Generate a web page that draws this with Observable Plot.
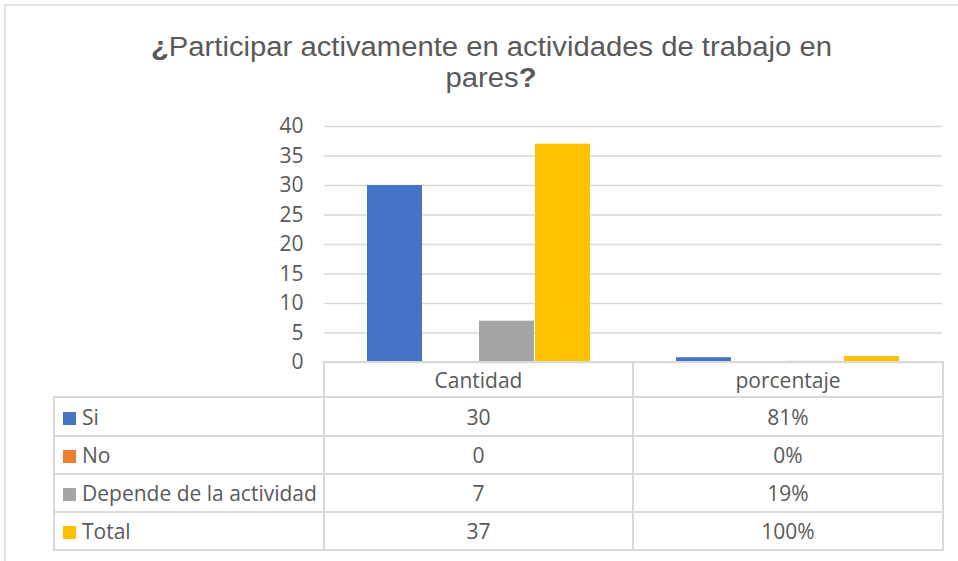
<!DOCTYPE html>
<html>
<head>
<meta charset="utf-8">
<script src="https://cdn.jsdelivr.net/npm/d3@7"></script>
<script src="https://cdn.jsdelivr.net/npm/@observablehq/plot@0.6"></script>
<style>
  html, body { margin: 0; padding: 0; background: #fff; width: 958px; height: 561px; overflow: hidden; }
  #frame { position: absolute; left: 4px; top: 4px; width: 1000px; height: 600px; border: 2px solid #e3e3e3; box-sizing: border-box; }
  #title { position: absolute; left: 0; top: 32px; width: 982px; text-align: center; font-family: "Liberation Sans", Arial, sans-serif; font-size: 27px; line-height: 31px; color: #595959; }
  #title span.l { display: inline-block; transform-origin: center; }
  #chart { position: absolute; left: 0; top: 100px; }
  #tbl { position: absolute; left: 53px; top: 361px; border-collapse: collapse; table-layout: fixed; font-family: "Open Sans", sans-serif; font-size: 21px; color: #595959; }
  #tbl td { border: 2px solid #d9d9d9; padding: 0; text-align: center; vertical-align: middle; white-space: nowrap; overflow: visible; }
  #tbl td.lab { text-align: left; padding-left: 8px; }
  #tbl td.blank { border-top: none; border-left: none; }
  .sw { display: inline-block; width: 13px; height: 13px; margin-right: 6px; vertical-align: 0px; }
</style>
</head>
<body>
<div id="frame"></div>
<div id="title"><span class="l" id="t1"><b>¿</b>Participar activamente en actividades de trabajo en</span><br><span class="l" id="t2">pares<b>?</b></span></div>
<div id="chart"></div>
<table id="tbl"></table>
<script>
const categories = ["Cantidad", "porcentaje"];
const series = ["Si", "No", "Depende de la actividad", "Total"];
const cantidad = [30, 0, 7, 37];
const porcentaje = [0.81, 0, 0.19, 1.00];
const colors = ["#4472C4", "#ED7D31", "#A5A5A5", "#FFC000"];
const yTicks = [0, 5, 10, 15, 20, 25, 30, 35, 40];

const rows = [];
categories.forEach((c, ci) => {
  series.forEach((s, si) => {
    rows.push({group: c, series: s, value: ci === 0 ? cantidad[si] : porcentaje[si]});
  });
});

const chart = Plot.plot({
  width: 958,
  height: 263,
  marginTop: 26,
  marginBottom: 1,
  marginLeft: 323,
  marginRight: 16,
  style: {fontFamily: "Open Sans, sans-serif", fontSize: "21px", color: "#595959", background: "transparent", overflow: "visible"},
  fx: {domain: categories, padding: 0, axis: null, label: null},
  x: {domain: series, paddingInner: 0.01, paddingOuter: 0.75, axis: null},
  y: {domain: [0, 40], ticks: yTicks, tickSize: 0, tickPadding: 21, label: null},
  color: {domain: series, range: colors},
  marks: [
    Plot.ruleY(yTicks, {stroke: "#d9d9d9", strokeWidth: 1.5}),
    Plot.barY(rows, {fx: "group", x: "series", y: "value", fill: "series"})
  ]
});
document.getElementById("chart").appendChild(chart);

// data table
const fmtPct = d3.format(".0%");
const tbl = d3.select("#tbl");
const cg = tbl.append("colgroup");
[270, 309, 310].forEach(w => cg.append("col").style("width", w + "px"));
const hr = tbl.append("tr").style("height", "35px");
hr.append("td").attr("class", "blank");
categories.forEach(c => hr.append("td").text(c));
const rowHeights = [39, 38, 38, 38];
series.forEach((s, i) => {
  const tr = tbl.append("tr").style("height", rowHeights[i] + "px");
  const lab = tr.append("td").attr("class", "lab");
  lab.append("span").attr("class", "sw").style("background", colors[i]);
  lab.append("span").text(s);
  tr.append("td").text(cantidad[i]);
  tr.append("td").text(fmtPct(porcentaje[i]));
});

// fit title line widths
const t1 = document.getElementById("t1");
const w1 = t1.getBoundingClientRect().width;
const sx = 681 / w1;
t1.style.transform = `scaleX(${sx})`;
document.getElementById("t2").style.transform = `scaleX(${sx})`;
</script>
</body>
</html>
